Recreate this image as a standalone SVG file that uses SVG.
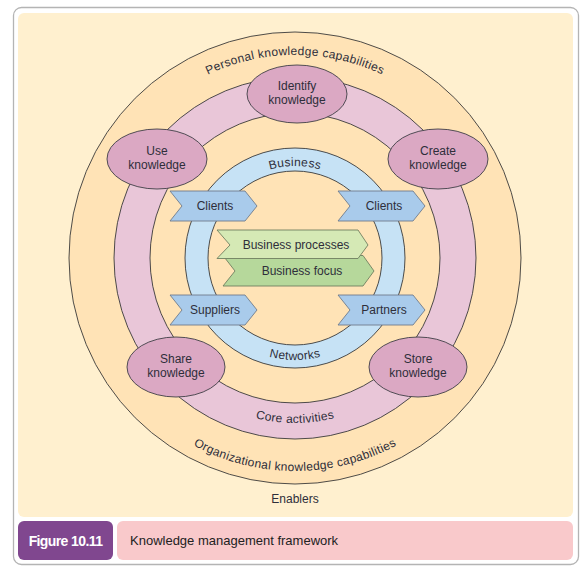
<svg xmlns="http://www.w3.org/2000/svg" width="588" height="578" viewBox="0 0 588 578">
<style>
text{font-family:"Liberation Sans",Arial,sans-serif;font-size:12px;fill:#2e2e3a}
.ring{stroke:#3a3a3a;stroke-width:0.9}
.ell{fill:#DBA8C3;stroke:#3f3f46;stroke-width:0.9}
.chev{fill:#A9CBEB;stroke:#6f7c8c;stroke-width:0.9}
.mid{text-anchor:middle}
.arc{letter-spacing:0.3px}
</style>
<defs>
<path id="pPersonal" d="M92,258 A203,203 0 0 1 498,258"/>
<path id="pOrg" d="M82,258 A213,213 0 0 0 508,258"/>
<path id="pCore" d="M130,258 A165,165 0 0 0 460,258"/>
<path id="pBusiness" d="M203,258 A92,92 0 0 1 387,258"/>
<path id="pNetworks" d="M193,258 A102,102 0 0 0 397,258"/>
</defs>
<rect x="13.5" y="7.5" width="565" height="557" rx="8" fill="#fff" stroke="#b4b4b4" stroke-width="1.3"/>
<rect x="18" y="13" width="555" height="504" rx="6" fill="#FFF0CF"/>

<g id="enablers">
<text class="mid" x="295" y="503">Enablers</text>
</g>

<g id="personal-organizational-capabilities">
<circle class="ring" cx="295" cy="258" r="226" fill="#FFE3B6"/>
<text class="arc"><textPath href="#pPersonal" startOffset="50%" text-anchor="middle">Personal knowledge capabilities</textPath></text>
<text class="arc"><textPath href="#pOrg" startOffset="50%" text-anchor="middle">Organizational knowledge capabilities</textPath></text>
</g>

<g id="core-activities">
<circle class="ring" cx="295" cy="258" r="181" fill="#E9C6D8"/>
<circle class="ring" cx="295" cy="258" r="145" fill="#FFE3B6"/>
<text class="arc"><textPath href="#pCore" startOffset="50%" text-anchor="middle">Core activities</textPath></text>
</g>

<g id="business-networks">
<circle class="ring" cx="295" cy="258" r="110" fill="#C6E2F5"/>
<circle class="ring" cx="295" cy="258" r="87" fill="#FFE3B6"/>
<text class="arc"><textPath href="#pBusiness" startOffset="50%" text-anchor="middle">Business</textPath></text>
<text class="arc"><textPath href="#pNetworks" startOffset="50%" text-anchor="middle">Networks</textPath></text>
</g>

<g id="connectors"></g>

<g id="identify-knowledge">
<ellipse class="ell" cx="297" cy="94" rx="50" ry="29"/>
<text class="mid" x="297" y="90">Identify</text>
<text class="mid" x="297" y="104">knowledge</text>
</g>
<g id="use-knowledge">
<ellipse class="ell" cx="157" cy="159" rx="50" ry="30"/>
<text class="mid" x="157" y="155">Use</text>
<text class="mid" x="157" y="169">knowledge</text>
</g>
<g id="create-knowledge">
<ellipse class="ell" cx="438" cy="159" rx="50" ry="30"/>
<text class="mid" x="438" y="155">Create</text>
<text class="mid" x="438" y="169">knowledge</text>
</g>
<g id="share-knowledge">
<ellipse class="ell" cx="176" cy="367" rx="49" ry="30"/>
<text class="mid" x="176" y="363">Share</text>
<text class="mid" x="176" y="377">knowledge</text>
</g>
<g id="store-knowledge">
<ellipse class="ell" cx="418" cy="367" rx="49" ry="30"/>
<text class="mid" x="418" y="363">Store</text>
<text class="mid" x="418" y="377">knowledge</text>
</g>

<g id="clients-left">
<polygon class="chev" points="170,191 245,191 257,206 245,221 170,221 182,206"/>
<text class="mid" x="215" y="210">Clients</text>
</g>
<g id="clients-right">
<polygon class="chev" points="338,191 413,191 425,206 413,221 338,221 350,206"/>
<text class="mid" x="384" y="210">Clients</text>
</g>
<g id="suppliers">
<polygon class="chev" points="170,295 245,295 257,310 245,325 170,325 182,310"/>
<text class="mid" x="215" y="314">Suppliers</text>
</g>
<g id="partners">
<polygon class="chev" points="338,295 413,295 425,310 413,325 338,325 350,310"/>
<text class="mid" x="384" y="314">Partners</text>
</g>
<g id="business-focus">
<polygon points="223,255.5 363,255.5 374,271 363,286 223,286 235,271" fill="#B6D89B" stroke="#6f7f60" stroke-width="0.9"/>
<text class="mid" x="302" y="275">Business focus</text>
</g>
<g id="business-processes">
<polygon points="217,230 358,230 368,245 358,258.5 217,258.5 230,245" fill="#D5E9B5" stroke="#6f7f60" stroke-width="0.9"/>
<text class="mid" x="296" y="249">Business processes</text>
</g>

<g id="caption">
<rect x="18" y="521" width="95" height="39" rx="6" fill="#80478F"/>
<text x="65.5" y="546" class="mid" style="fill:#fff;font-weight:bold;font-size:14px;letter-spacing:-0.6px">Figure 10.11</text>
<rect x="117" y="521" width="456" height="39" rx="6" fill="#F9C9CB"/>
<text x="130" y="545" style="font-size:13px;fill:#222">Knowledge management framework</text>
</g>
</svg>
